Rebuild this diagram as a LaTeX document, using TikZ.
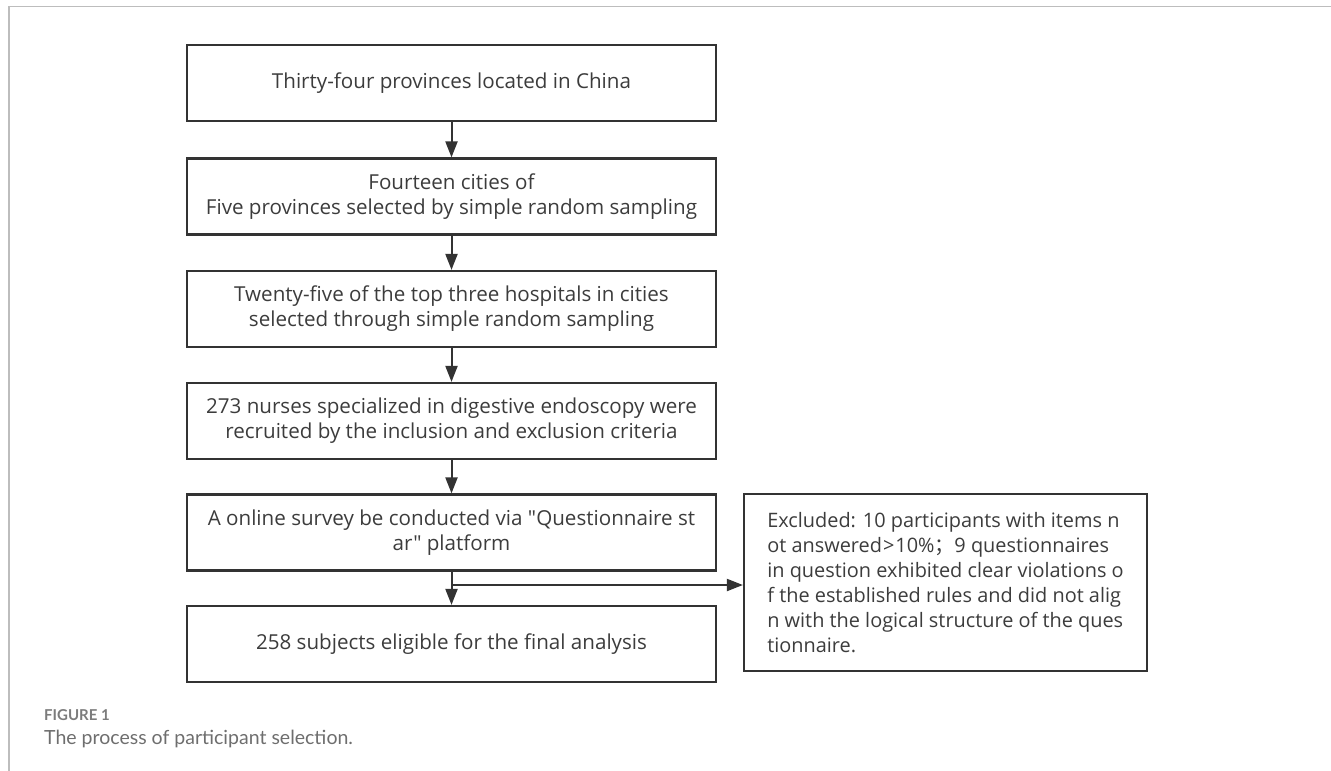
\documentclass[tikz,border=0pt]{standalone}
\usepackage{fontspec}
\setmainfont{Open Sans}[Ligatures=TeXOff]
\newfontfamily\capfont{Lato}
\newfontfamily\cjkfont{Noto Sans CJK SC}
\usetikzlibrary{arrows.meta}
\definecolor{boxline}{HTML}{333333}
\definecolor{boxtext}{HTML}{3C3C3C}
\definecolor{framegray}{HTML}{BDBDBD}
\definecolor{capgray}{HTML}{6E6E6E}
\definecolor{figgray}{HTML}{7C7C7C}
\tikzset{
  stepbox/.style={draw=boxline, line width=2.2pt, minimum width=529pt, minimum height=76pt,
    inner sep=0pt, align=center, text=boxtext, font=\fontsize{20.6}{25}\selectfont},
  exbox/.style={draw=boxline, line width=2.2pt, minimum width=403pt, minimum height=177pt,
    inner xsep=16pt, inner ysep=0pt, align=left, text=boxtext, font=\fontsize{19.9}{25}\selectfont},
  flow/.style={draw=boxline, line width=2pt, -{Triangle[length=16pt,width=12pt]}},
}
\begin{document}
\begin{tikzpicture}[x=1pt,y=-1pt]
\useasboundingbox (0,0) rectangle (1331,771);
\draw[framegray, line width=1.6pt] (9,771) -- (9,6.5) -- (1331,6.5);
\node[stepbox] (b1) at (451.5,83) {Thirty-four provinces located in China};
\node[stepbox] (b2) at (451.5,196.5) {Fourteen cities of\\Five provinces selected by simple random sampling};
\node[stepbox] (b3) at (451.5,309) {Twenty-five of the top three hospitals in cities\\selected through simple random sampling};
\node[stepbox] (b4) at (451.5,421) {273 nurses specialized in digestive endoscopy were\\recruited by the inclusion and exclusion criteria};
\node[stepbox] (b5) at (451.5,532.5) {A online survey be conducted via "Questionnaire st\\ar" platform};
\node[stepbox] (b6) at (451.5,644) {258 subjects eligible for the final analysis};
\node[exbox] (ex) at (945.5,582.5) {Excluded: 10 participants with items n\\ot answered\kern1pt>\kern1pt10\%{\cjkfont ；}9 questionnaires\\in question exhibited clear violations o\\f the established rules and did not alig\\n with the logical structure of the ques\\tionnaire.};
\draw[flow] (b1) -- (b2);
\draw[flow] (b2) -- (b3);
\draw[flow] (b3) -- (b4);
\draw[flow] (b4) -- (b5);
\draw[flow] (b5) -- (b6);
\coordinate (jn) at (451.5,585);
\draw[flow] (jn) -- (ex.west |- jn);
\node[anchor=base west, inner sep=0pt, text=figgray, font=\capfont\bfseries\fontsize{15}{18}\selectfont] (fig) at (44,720) {FIGURE 1};
\node[anchor=base west, inner sep=0pt, text=capgray, font=\capfont\fontsize{19.5}{23}\selectfont] (cap) at (44,744) {The process of participant selection.};
\end{tikzpicture}
\end{document}
